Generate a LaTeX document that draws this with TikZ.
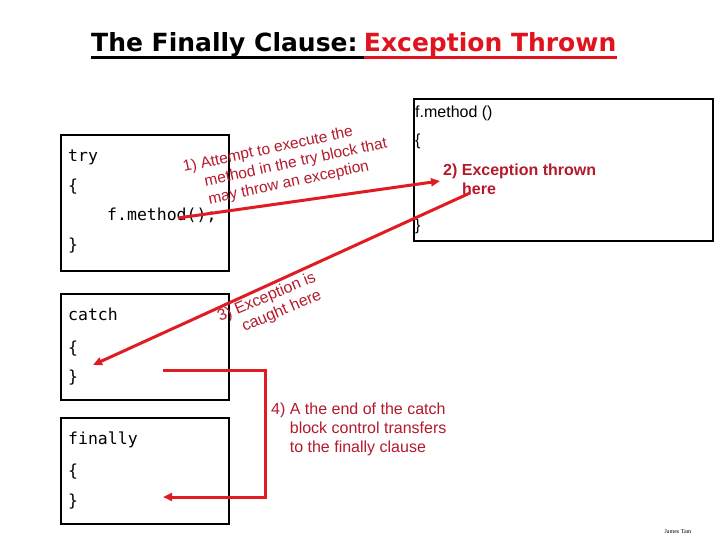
\documentclass[tikz,border=0pt]{standalone}
\usepackage{fontspec}
\setmainfont{Liberation Sans}
\setmonofont{DejaVu Sans Mono}
\newfontfamily\titlefont{DejaVu Sans}
\newfontfamily\authorfont{Liberation Serif}
\usetikzlibrary{arrows.meta}
\definecolor{arrowred}{HTML}{E01B22}
\definecolor{labelred}{HTML}{B51A2C}
\definecolor{titlered}{HTML}{E0141E}
\begin{document}
\begin{tikzpicture}[x=1pt,y=-1pt,
  box/.style={draw=black, line width=2pt, anchor=north west, inner sep=0pt},
  code/.style={font=\ttfamily\fontsize{16.5}{20}\selectfont, anchor=base west, inner sep=0pt},
  plain/.style={font=\fontsize{16}{19}\selectfont, anchor=base west, inner sep=0pt},
  lbl/.style={font=\fontsize{15.5}{18.5}\selectfont, text=labelred, anchor=base west, inner sep=0pt},
  bold2/.style={font=\bfseries\fontsize{16}{19}\selectfont, text=labelred, anchor=base west, inner sep=0pt},
  flow/.style={draw=arrowred, line width=3pt, -{Triangle[length=9pt,width=8pt]}},
  ttl/.style={font=\titlefont\bfseries\fontsize{25}{30}\selectfont, anchor=base west, inner sep=0pt}
]
\useasboundingbox[fill=white] (0,0) rectangle (720,540);

% title
\node[ttl] (t1) at (91,52) {The Finally Clause:};
\node[ttl, text=titlered] (t2) at ([xshift=6pt]t1.base east) {Exception Thrown};
\draw[line width=2.5pt] ([yshift=-5.5pt]t1.base west) -- ([yshift=-5.5pt,xshift=6pt]t1.base east);
\draw[line width=2.5pt, titlered] ([yshift=-5.5pt]t2.base west) -- ([yshift=-5.5pt]t2.base east);

% boxes
\node[box, minimum width=168pt, minimum height=136pt] (trybox) at (60,134) {};
\node[box, minimum width=168pt, minimum height=106pt] (catchbox) at (60,293) {};
\node[box, minimum width=168pt, minimum height=106pt] (finbox) at (60,417) {};
\node[box, minimum width=299pt, minimum height=142pt] (mbox) at (413,98) {};

% code text
\node[code] (ctry) at (68,162) {try};
\node[code] (cob1) at (68,192) {\{};
\node[code] (ccall) at (107,221) {f.method();};
\node[code] (ccb1) at (68,251) {\}};
\node[code] (ccatch) at (68,320) {catch};
\node[code] (cob2) at (68,353) {\{};
\node[code] (ccb2) at (68,382) {\}};
\node[code] (cfin) at (68,444) {finally};
\node[code] (cob3) at (68,476) {\{};
\node[code] (ccb3) at (68,506) {\}};

\node[plain] (mhead) at (415,118) {f.method ()};
\node[plain] (mob) at (415,146) {\{};
\node[plain] (mcb) at (415,230) {\}};
\node[bold2] (thrown) at (443,176) {2) Exception thrown};
\node[bold2] (here) at (462,195) {here};

% labels
\node[lbl, rotate=12] (l1) at (184,172) {\begin{tabular}[t]{@{}l@{\ }l@{}}1)&Attempt to execute the\\ &method in the try block that\\ &may throw an exception\end{tabular}};
\node[lbl, rotate=23, font=\fontsize{16}{18.5}\selectfont] (l3) at (220,322) {\begin{tabular}[t]{@{}l@{\ }l@{}}3)&Exception is\\ &caught here\end{tabular}};
\node[plain, text=labelred] (l4) at (271,414) {\begin{tabular}[t]{@{}l@{\ }l@{}}4)&A the end of the catch\\ &block control transfers\\ &to the finally clause\end{tabular}};

\node[font=\authorfont\fontsize{6}{7}\selectfont, inner sep=0pt] (author) at (678,532) {James Tam};

% connectors
\coordinate (callpt) at (178,218);
\coordinate (herept) at (470,193);
\coordinate (catchin) at (93,365);
\coordinate (catchend) at (163,370);
\coordinate (corner1) at (265,370);
\coordinate (corner2) at (265,497);
\coordinate (finin) at (163,497);

\draw[flow] (callpt) -- ([xshift=-3pt,yshift=-5pt]thrown.base west);
\draw[flow] (herept) -- (catchin);
\draw[flow] (catchend) -- (corner1) -- (corner2) -- (finin);
\end{tikzpicture}
\end{document}
